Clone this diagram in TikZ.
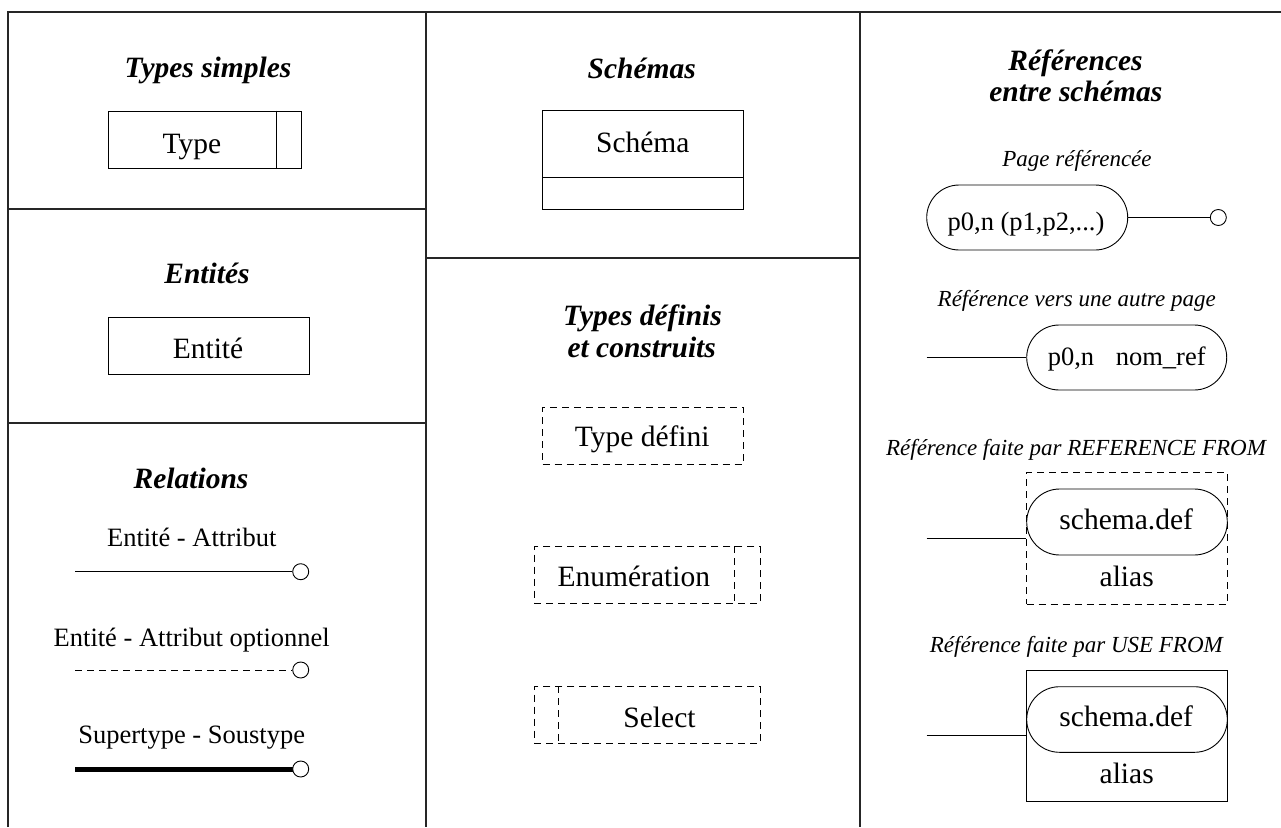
\documentclass[tikz,border=0pt]{standalone}
\usepackage{fontspec}
\setmainfont{Liberation Serif}
\usetikzlibrary{shapes.misc,calc}
\begin{document}
\begin{tikzpicture}[x=1pt,y=-1pt,
  frame/.style={draw=black!85, line width=1.6pt},
  thinline/.style={line width=0.9pt},
  dashline/.style={line width=0.9pt, dash pattern=on 7pt off 5pt},
  title/.style={font=\fontsize{29.5}{33}\selectfont\bfseries\itshape, anchor=base, inner sep=0pt},
  lbl/.style={font=\fontsize{29.5}{33}\selectfont, anchor=base, inner sep=0pt},
  rel/.style={font=\fontsize{26.5}{30}\selectfont, anchor=base, inner sep=0pt},
  sub/.style={font=\fontsize{23}{27}\selectfont\itshape, anchor=base, inner sep=0pt},
  shapebox/.style={draw, line width=0.9pt, rectangle, inner sep=0pt},
  pill/.style={draw, line width=0.9pt, rounded rectangle, inner sep=0pt},
  endcirc/.style={circle, draw, line width=0.9pt, fill=white, minimum size=16pt, inner sep=0pt}
]
\useasboundingbox (0,0) rectangle (1281,827);

% grid of the legend
\draw[frame] (8,827) -- (8,12) -- (1281,12);
\draw[frame] (426,12) -- (426,827);
\draw[frame] (860,12) -- (860,827);
\draw[frame] (8,209) -- (426,209);
\draw[frame] (8,423) -- (426,423);
\draw[frame] (426,258) -- (860,258);

% ---- simple types
\node[title] (tsimple) at (208,77) {Types simples};
\node[shapebox, minimum width=193pt, minimum height=57pt] (typebox) at (204.5,139.5) {};
\draw[thinline] ($(typebox.north east)+(-25,0)$) -- ($(typebox.south east)+(-25,0)$);
\node[lbl] (typetxt) at (192,153) {Type};

% ---- entities
\node[title] (tent) at (207,283) {Entités};
\node[shapebox, minimum width=201pt, minimum height=57pt] (entbox) at (208.5,345.5) {};
\node[lbl] (enttxt) at (208,358) {Entité};

% ---- relations
\node[title] (trel) at (191,488) {Relations};
\node[rel] (r1txt) at (191.7,546.7) {Entité - Attribut};
\coordinate (r1a) at (75,571.7);
\node[endcirc] (r1c) at (300.7,571.7) {};
\draw[thinline] (r1a) -- (r1c.west);

\node[rel] (r2txt) at (191.7,646) {Entité - Attribut optionnel};
\coordinate (r2a) at (75,670);
\node[endcirc] (r2c) at (300.7,670) {};
\draw[dashline] (r2a) -- (r2c.west);

\node[rel] (r3txt) at (191.7,743) {Supertype - Soustype};
\coordinate (r3a) at (75,769);
\draw[line width=5pt] (r3a) -- (300.7,769);
\node[endcirc] (r3c) at (300.7,769) {};

% ---- schemas
\node[title] (tsch) at (641.8,78.7) {Schémas};
\node[shapebox, minimum width=200.6pt, minimum height=98.6pt] (schbox) at (643,160) {};
\draw[thinline] ($(schbox.south west)+(0,-32.6)$) -- ($(schbox.south east)+(0,-32.6)$);
\node[lbl] (schtxt) at (642.8,152.7) {Schéma};

% ---- defined and constructed types
\node[title] (tdef1) at (642.5,325) {Types définis};
\node[title] (tdef2) at (641.7,357) {et construits};

\node[shapebox, dashline, minimum width=200.6pt, minimum height=56.7pt] (defbox) at (643,435.65) {};
\node[lbl] (deftxt) at (642.2,446.7) {Type défini};

\node[shapebox, dashline, minimum width=225.7pt, minimum height=56.6pt] (enumbox) at (647.15,575) {};
\draw[dashline] ($(enumbox.north east)+(-25.7,0)$) -- ($(enumbox.south east)+(-25.7,0)$);
\node[lbl] (enumtxt) at (633.8,586.7) {Enumération};

\node[shapebox, dashline, minimum width=225.7pt, minimum height=56.6pt] (selbox) at (647.15,715) {};
\draw[dashline] ($(selbox.north west)+(25,0)$) -- ($(selbox.south west)+(25,0)$);
\node[lbl] (seltxt) at (659.5,727.3) {Select};

% ---- references between schemas
\node[title] (tref1) at (1075.5,70.7) {Références};
\node[title] (tref2) at (1075.8,101.7) {entre schémas};

\node[sub] (s1) at (1077,166.7) {Page référencée};
\node[pill, minimum width=201pt, minimum height=65pt] (pill1) at (1027.2,217.5) {};
\node[rel] (p1txt) at (1026,230) {p0,n (p1,p2,...)};
\node[endcirc] (p1c) at (1218.3,217.5) {};
\draw[thinline] (pill1.east) -- (p1c.west);

\node[sub] (s2) at (1076.7,306.7) {Référence vers une autre page};
\node[pill, minimum width=200pt, minimum height=65pt] (pill2) at (1126.7,357.5) {};
\node[rel] (p2txt) at (1126.7,365) {p0,n\hspace{0.82em}nom\_ref};
\coordinate (p2a) at (926.7,357.5);
\draw[thinline] (p2a) -- (pill2.west);

\node[sub] (s3) at (1076,455) {Référence faite par REFERENCE FROM};
\node[shapebox, dashline, minimum width=200.6pt, minimum height=131.7pt] (rfbox) at (1127,538.15) {};
\node[pill, minimum width=200.6pt, minimum height=66pt] (rfpill) at (1127,522) {};
\node[lbl] (rftxt) at (1126.2,529.3) {schema.def};
\node[lbl] (rfalias) at (1126.7,586.7) {alias};
\coordinate (rfa) at (926.7,538.15);
\draw[thinline] (rfa) -- (rfbox.west);

\node[sub] (s4) at (1076.3,652.3) {Référence faite par USE FROM};
\node[shapebox, minimum width=200.6pt, minimum height=131.7pt] (ufbox) at (1127,735.85) {};
\node[pill, minimum width=200.6pt, minimum height=65.6pt] (ufpill) at (1127,719.5) {};
\node[lbl] (uftxt) at (1126.2,726.7) {schema.def};
\node[lbl] (ufalias) at (1126.7,783.3) {alias};
\coordinate (ufa) at (926.7,735.85);
\draw[thinline] (ufa) -- (ufbox.west);
\end{tikzpicture}
\end{document}
